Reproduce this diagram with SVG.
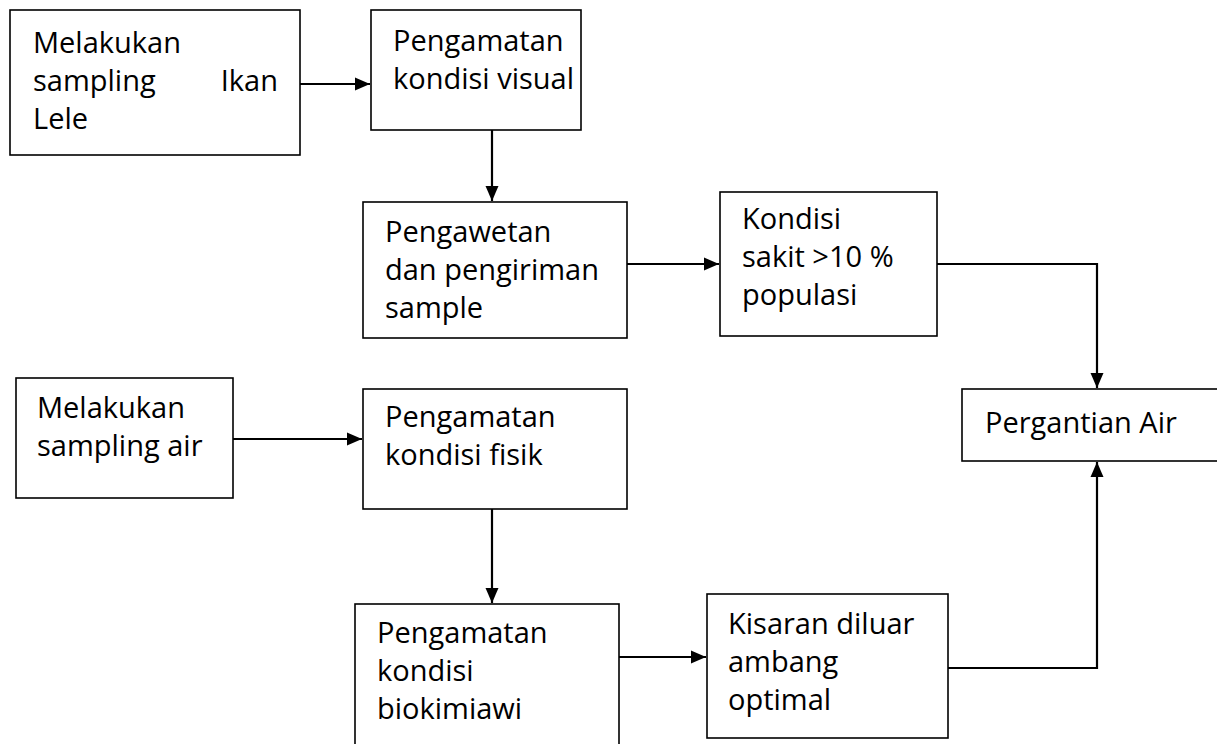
<svg xmlns="http://www.w3.org/2000/svg" width="1217" height="744" viewBox="0 0 1217 744">
<style>
.box{fill:#fff;stroke:#000;stroke-width:1.6}
.t{font-family:"Open Sans","Noto Sans","DejaVu Sans",sans-serif;font-size:29px;fill:#000}
.c{fill:none;stroke:#000;stroke-width:2.2}
</style>
<defs>
<marker id="ah" markerUnits="userSpaceOnUse" markerWidth="16" markerHeight="16" viewBox="0 0 16 16" refX="15" refY="8" orient="auto">
<path d="M0,1.5 L15,8 L0,14.5 Z" fill="#000"/>
</marker>
</defs>
<rect width="1217" height="744" fill="#fff"/>
<g id="connectors">
<line class="c" x1="300" y1="84" x2="370" y2="84" marker-end="url(#ah)"/>
<line class="c" x1="492" y1="130" x2="492" y2="201" marker-end="url(#ah)"/>
<line class="c" x1="627" y1="264" x2="719" y2="264" marker-end="url(#ah)"/>
<polyline class="c" points="937,264 1097,264 1097,388" marker-end="url(#ah)"/>
<line class="c" x1="233" y1="439" x2="362" y2="439" marker-end="url(#ah)"/>
<line class="c" x1="492" y1="509" x2="492" y2="603" marker-end="url(#ah)"/>
<line class="c" x1="616" y1="657" x2="706" y2="657" marker-end="url(#ah)"/>
<polyline class="c" points="948,668 1097,668 1097,462" marker-end="url(#ah)"/>
</g>
<g id="n1">
<rect class="box" x="10" y="10" width="290" height="145"/>
<text class="t" x="33" y="53">Melakukan</text>
<text class="t" x="33" y="91">sampling</text>
<text class="t" x="278" y="91" text-anchor="end">Ikan</text>
<text class="t" x="33" y="129">Lele</text>
</g>
<g id="n2">
<rect class="box" x="371" y="10" width="210" height="120"/>
<text class="t" x="393" y="51">Pengamatan</text>
<text class="t" x="393" y="89">kondisi visual</text>
</g>
<g id="n3">
<rect class="box" x="363" y="202" width="264" height="136"/>
<text class="t" x="385" y="242">Pengawetan</text>
<text class="t" x="385" y="280">dan pengiriman</text>
<text class="t" x="385" y="318">sample</text>
</g>
<g id="n4">
<rect class="box" x="720" y="192" width="217" height="144"/>
<text class="t" x="742" y="229">Kondisi</text>
<text class="t" x="742" y="267">sakit &gt;10 %</text>
<text class="t" x="742" y="305">populasi</text>
</g>
<g id="n5">
<rect class="box" x="962" y="389" width="260" height="72"/>
<text class="t" x="985" y="433">Pergantian Air</text>
</g>
<g id="n6">
<rect class="box" x="16" y="378" width="217" height="120"/>
<text class="t" x="37" y="418">Melakukan</text>
<text class="t" x="37" y="456">sampling air</text>
</g>
<g id="n7">
<rect class="box" x="363" y="389" width="264" height="120"/>
<text class="t" x="385" y="427">Pengamatan</text>
<text class="t" x="385" y="465">kondisi fisik</text>
</g>
<g id="n8">
<rect class="box" x="355" y="604" width="264" height="150"/>
<text class="t" x="377" y="643">Pengamatan</text>
<text class="t" x="377" y="681">kondisi</text>
<text class="t" x="377" y="719">biokimiawi</text>
</g>
<g id="n9">
<rect class="box" x="707" y="594" width="241" height="144"/>
<text class="t" x="728" y="634">Kisaran diluar</text>
<text class="t" x="728" y="672">ambang</text>
<text class="t" x="728" y="710">optimal</text>
</g>
</svg>
